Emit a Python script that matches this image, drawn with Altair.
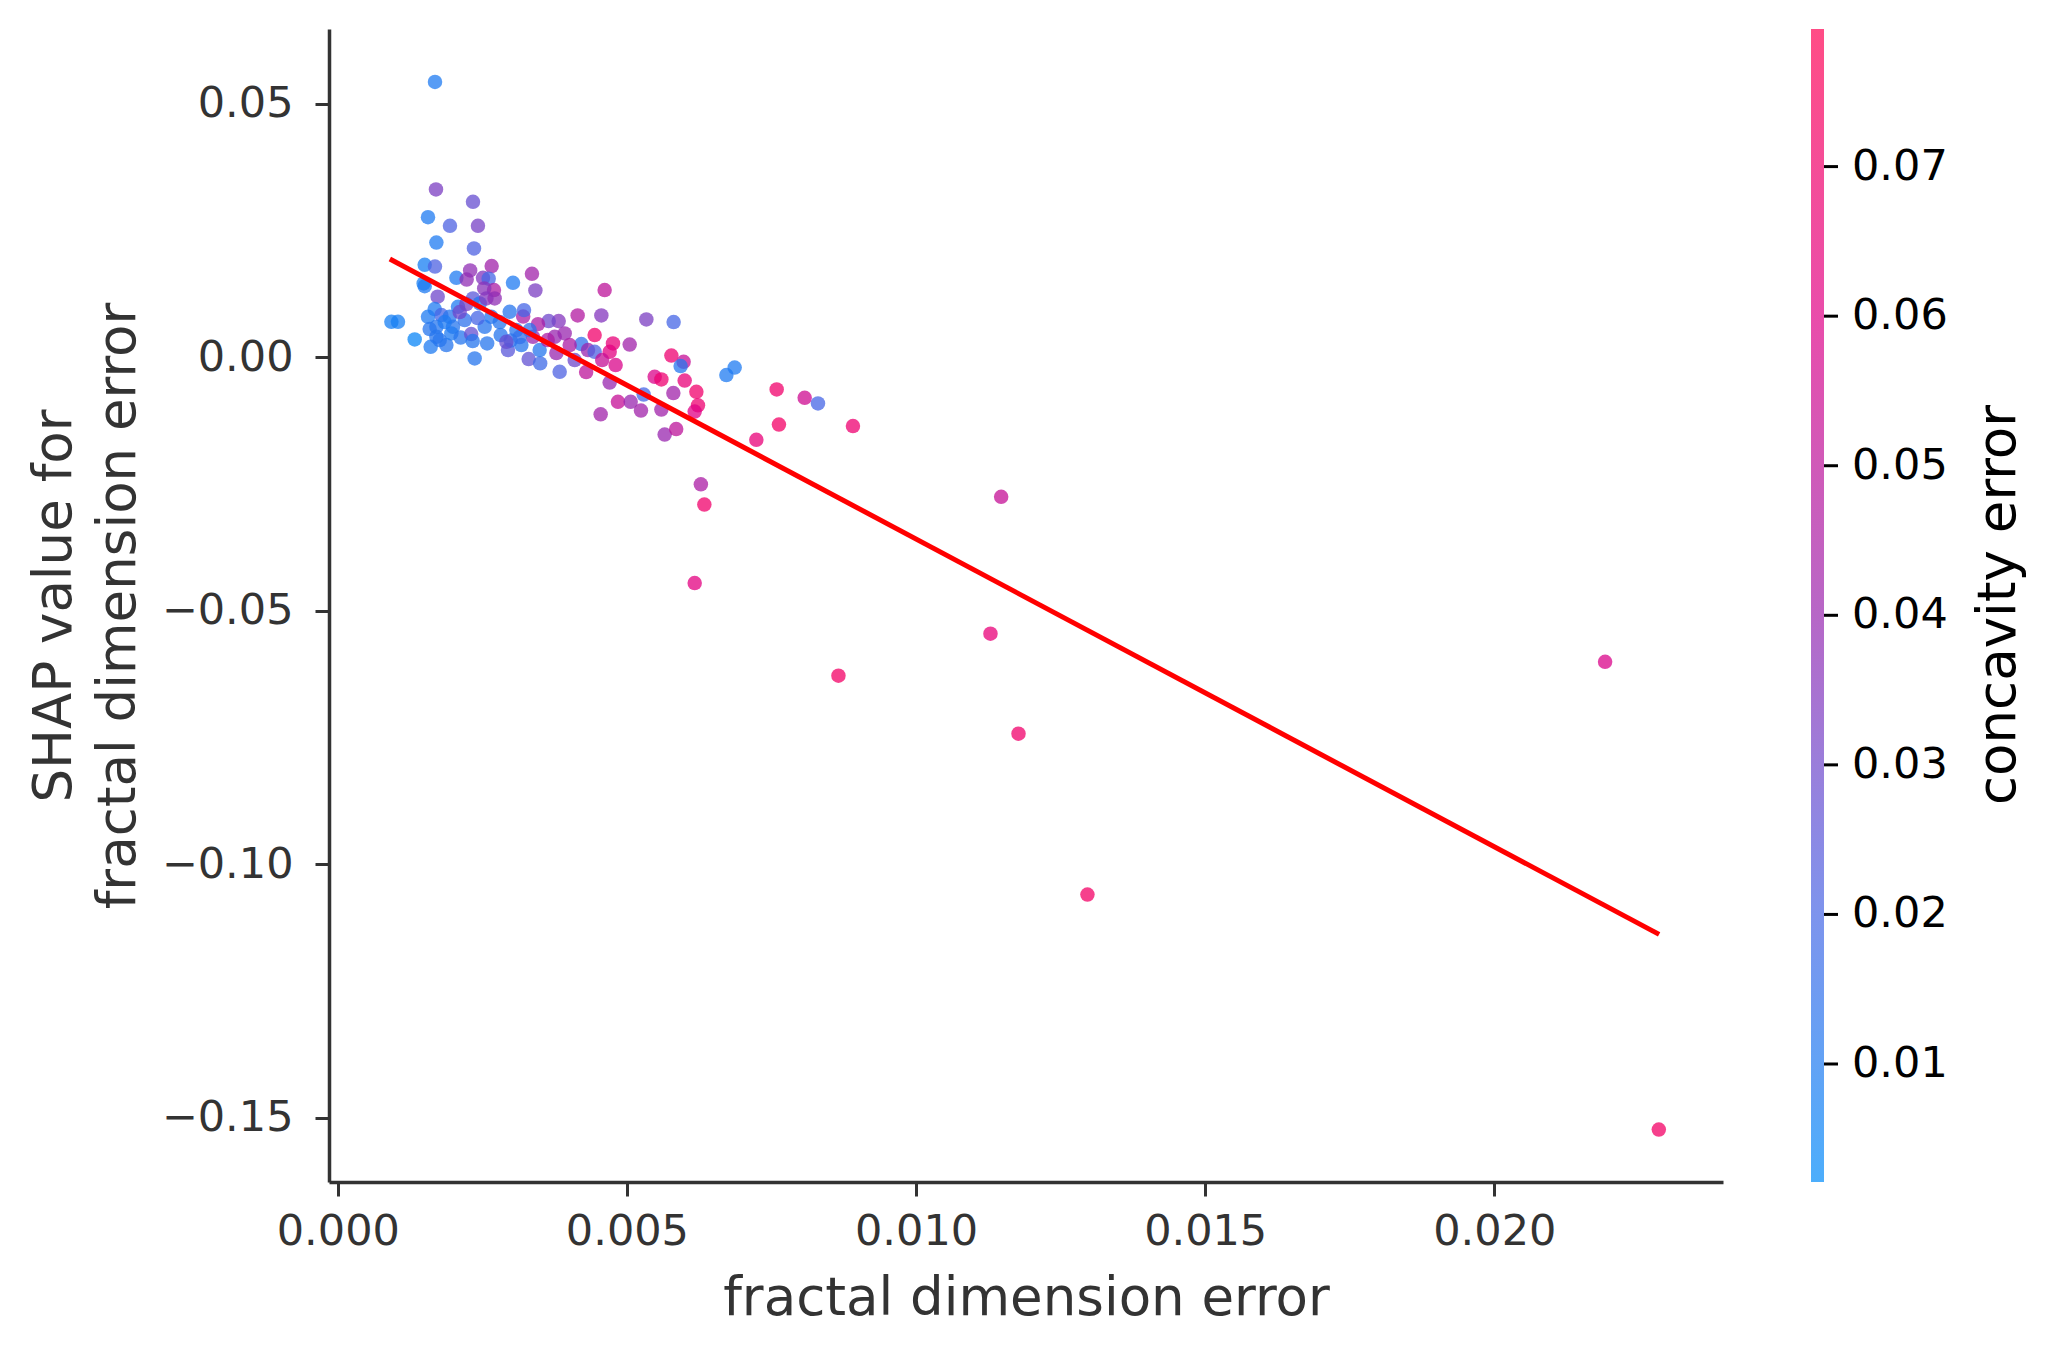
import altair as alt
import pandas as pd

# fractal dimension error (x), SHAP value (y), concavity error (colour)
x_vals = [
    0.001681, 0.001698, 0.002338, 0.001560, 0.001940, 0.002424, 0.001705, 0.002355, 0.001503, 0.001681,
    0.002661, 0.002051, 0.002289, 0.002229, 0.002511, 0.002609, 0.003030, 0.003358, 0.003417, 0.001485,
    0.001503, 0.002701, 0.002532, 0.001727, 0.004615, 0.004558, 0.004148, 0.003820, 0.003647, 0.003206,
    0.003220, 0.002973, 0.001676, 0.001791, 0.001560, 0.002079, 0.002224, 0.000927, 0.001041, 0.001330,
    0.001606, 0.001589, 0.001705, 0.001878, 0.001992, 0.001964, 0.002125, 0.002367, 0.002307, 0.002333,
    0.002583, 0.002540, 0.002656, 0.002817, 0.002943, 0.002990, 0.003175, 0.003301, 0.003375, 0.003462,
    0.003500, 0.003491, 0.003751, 0.003924, 0.003780, 0.003837, 0.004442, 0.004212, 0.004327, 0.004442,
    0.004759, 0.004702, 0.004805, 0.004572, 0.004295, 0.004702, 0.004845, 0.004546, 0.005336, 0.005808,
    0.005048, 0.005769, 0.005981, 0.005929, 0.005480, 0.005596, 0.005999, 0.006201, 0.005803, 0.005290,
    0.005065, 0.005243, 0.005596, 0.006229, 0.006172, 0.005653, 0.005852, 0.006720, 0.006863, 0.007590,
    0.007629, 0.007238, 0.008074, 0.008304, 0.008909, 0.011472, 0.006279, 0.006339, 0.006172, 0.011287,
    0.008658, 0.011772, 0.012964, 0.021916, 0.022845, 0.002338, 0.002454, 0.002570, 0.002713, 0.001935,
    0.001705, 0.001762, 0.003088, 0.003318, 0.002915, 0.001849, 0.002194, 0.002108, 0.002419, 0.002800,
    0.003145, 0.003630, 0.004010, 0.004097,
]
y_vals = [
    0.05426, 0.03305, 0.03061, 0.02759, 0.02588, 0.02588, 0.02257, 0.02142, 0.01819, 0.01784,
    0.01794, 0.01563, 0.01709, 0.01528, 0.01563, 0.01547, 0.01464, 0.01642, 0.01315, 0.01453,
    0.01399, 0.01321, 0.01354, 0.01192, 0.01321, 0.00822, 0.00822, 0.00710, 0.00710, 0.00798,
    0.00926, 0.00893, 0.00946, 0.00828, 0.00794, 0.00991, 0.01045, 0.00696, 0.00696, 0.00349,
    0.00203, 0.00552, 0.00400, 0.00237, 0.00597, 0.00467, 0.00384, -0.00026, 0.00453, 0.00315,
    0.00270, 0.00597, 0.00794, 0.00434, 0.00138, 0.00325, 0.00237, -0.00039, 0.00400, 0.00650,
    -0.00124, 0.00138, 0.00400, 0.00467, 0.00079, -0.00290, 0.00434, 0.00256, 0.00138, 0.00104,
    0.00270, 0.00104, -0.00158, -0.00059, -0.00296, -0.00503, -0.00881, -0.01129, 0.00743, 0.00690,
    0.00246, 0.00030, -0.00093, -0.00177, -0.00388, -0.00440, -0.00463, -0.00684, -0.00710, -0.00739,
    -0.00881, -0.01054, -0.01035, -0.00952, -0.01074, -0.01528, -0.01419, -0.00355, -0.00207, -0.00637,
    -0.01330, -0.01630, -0.00804, -0.00913, -0.01360, -0.02755, -0.02509, -0.02907, -0.04455, -0.05454,
    -0.06282, -0.07425, -0.10598, -0.06008, -0.15230, 0.01157, 0.01058, 0.01157, 0.01157, 0.00794,
    0.00597, 0.00335, 0.00532, 0.00532, 0.00302, 0.00690, 0.00729, 0.00887, 0.00769, 0.00690,
    0.00394, 0.00335, 0.00237, -0.00059,
]
c_vals = [
    0.010, 0.033, 0.028, 0.010, 0.022, 0.032, 0.010, 0.022, 0.008, 0.022,
    0.042, 0.010, 0.038, 0.038, 0.035, 0.020, 0.010, 0.042, 0.033, 0.008,
    0.010, 0.045, 0.036, 0.030, 0.050, 0.035, 0.047, 0.035, 0.030, 0.045,
    0.020, 0.012, 0.010, 0.020, 0.010, 0.010, 0.032, 0.008, 0.008, 0.005,
    0.010, 0.012, 0.012, 0.012, 0.012, 0.010, 0.012, 0.012, 0.028, 0.012,
    0.012, 0.012, 0.012, 0.012, 0.025, 0.015, 0.012, 0.027, 0.040, 0.045,
    0.018, 0.012, 0.040, 0.040, 0.040, 0.022, 0.070, 0.015, 0.040, 0.022,
    0.065, 0.062, 0.058, 0.052, 0.050, 0.040, 0.052, 0.042, 0.033, 0.020,
    0.042, 0.068, 0.052, 0.012, 0.058, 0.068, 0.065, 0.070, 0.042, 0.020,
    0.040, 0.042, 0.042, 0.068, 0.060, 0.040, 0.050, 0.010, 0.010, 0.070,
    0.072, 0.065, 0.055, 0.020, 0.068, 0.052, 0.045, 0.070, 0.062, 0.065,
    0.072, 0.070, 0.072, 0.058, 0.072, 0.025, 0.012, 0.035, 0.038, 0.012,
    0.012, 0.012, 0.012, 0.015, 0.028, 0.010, 0.014, 0.030, 0.020, 0.012,
    0.015, 0.045, 0.045, 0.030,
]

# fitted trend line end points
line_x = [0.00090, 0.02285]
line_y = [0.01933, -0.11383]

x_ticks = [0.0, 0.005, 0.010, 0.015, 0.020]
y_ticks = [-0.15, -0.10, -0.05, 0.0, 0.05]
c_ticks = [0.01, 0.02, 0.03, 0.04, 0.05, 0.06, 0.07]
colorbar_title = ["concavity error"]

c_domain = [0.00211, 0.02138, 0.04066, 0.05993, 0.0792]
c_range = ["#008bfa", "#4b63e3", "#9b24ad", "#e00086", "#ff0052"]

df = pd.DataFrame({"x": x_vals, "y": y_vals, "c": c_vals})
ldf = pd.DataFrame({"x": line_x, "y": line_y})
tdf = pd.DataFrame({"t": colorbar_title})
cdf = pd.DataFrame({"v": c_ticks})

FONT = "DejaVu Sans"
xscale = alt.Scale(domain=[-0.000152, 0.023955], nice=False, zero=False)
yscale = alt.Scale(domain=[-0.16265, 0.06469], nice=False, zero=False)

points = alt.Chart(df).mark_circle(size=210, opacity=0.75, strokeWidth=0).encode(
    x=alt.X("x:Q", scale=xscale,
            axis=alt.Axis(values=x_ticks, format=".3f", title="fractal dimension error",
                          labelPadding=14, titlePadding=19)),
    y=alt.Y("y:Q", scale=yscale,
            axis=alt.Axis(values=y_ticks, format=".2f",
                          title=["SHAP value for", "fractal dimension error"],
                          labelPadding=22, titlePadding=16, titleLineHeight=64)),
    color=alt.Color("c:Q",
                    scale=alt.Scale(domain=c_domain, range=c_range, interpolate="rgb"),
                    legend=alt.Legend(title=None, orient="none",
                                      legendX=1482, legendY=0, direction="vertical",
                                      gradientLength=1153, gradientThickness=13,
                                      gradientOpacity=0.7, gradientStrokeWidth=0,
                                      values=c_ticks, format=".2f",
                                      labelFontSize=43, labelColor="black", labelFont=FONT,
                                      labelOffset=28, labelOverlap=False, padding=0)),
)

line = alt.Chart(ldf).mark_line(color="#ff0000", strokeWidth=5).encode(
    x=alt.X("x:Q", scale=xscale),
    y=alt.Y("y:Q", scale=yscale, axis=None),
)

cb_ticks = alt.Chart(cdf).mark_rule(color="black", strokeWidth=3).encode(
    y=alt.Y("v:Q", scale=alt.Scale(domain=[c_domain[0], c_domain[-1]], nice=False, zero=False),
            axis=None),
    x=alt.value(1495), x2=alt.value(1509),
)

cb_title = alt.Chart(tdf).mark_text(
    angle=270, align="center", baseline="middle", fontSize=53, font=FONT, color="black"
).encode(text="t:N", x=alt.value(1670), y=alt.value(576))

chart = alt.layer(points, line, cb_ticks, cb_title).resolve_scale(y="independent").properties(
    width=1394, height=1153,
    padding={"left": 329, "top": 29, "right": 332, "bottom": 175},
    autosize=alt.AutoSizeParams(type="none"),
    background="white",
).configure_view(stroke=None).configure_axis(
    grid=False,
    domainColor="#333333", domainWidth=3.5,
    tickColor="#333333", tickWidth=3, tickSize=14,
    labelColor="#333333", labelFontSize=43, labelFont=FONT,
    titleColor="#333333", titleFontSize=53, titleFont=FONT, titleFontWeight="normal",
)

chart.save("out.html", embed_options={"renderer": "svg", "actions": False})
